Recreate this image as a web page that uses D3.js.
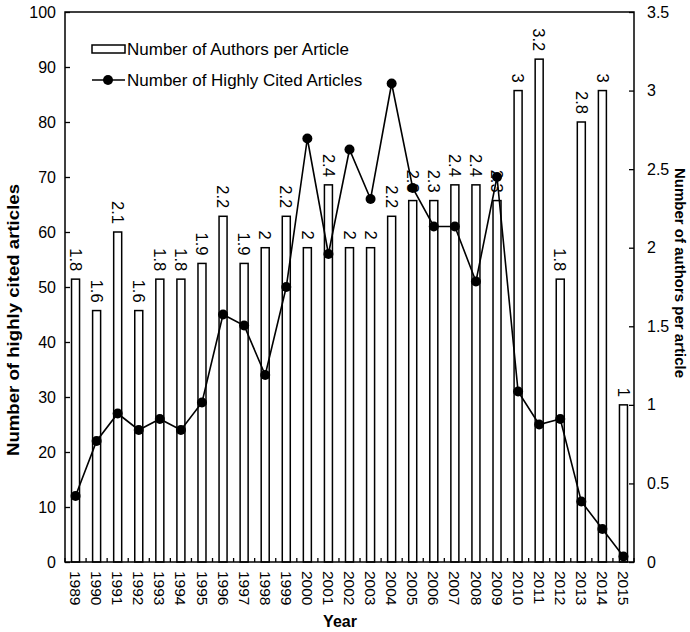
<!DOCTYPE html>
<meta charset="utf-8">
<style>
body { margin: 0; background: #fff; }
text { font-family: "Liberation Sans", Arial, sans-serif; fill: #000; }
.axis path { display: none; }
.axis line { stroke: #000; stroke-width: 1.3; }
.axis text { font-size: 16px; }
.title { font-weight: bold; font-size: 15px; }
</style>
<body>
<svg width="690" height="632"></svg>
<script src="https://cdn.jsdelivr.net/npm/d3@7"></script>
<script>

// data
var years = ["1989","1990","1991","1992","1993","1994","1995","1996","1997","1998","1999","2000","2001","2002",
             "2003","2004","2005","2006","2007","2008","2009","2010","2011","2012","2013","2014","2015"];
var authorsPerArticle = [1.8,1.6,2.1,1.6,1.8,1.8,1.9,2.2,1.9,2,2.2,2,2.4,2,2,2.2,2.3,2.3,2.4,2.4,2.3,3,3.2,1.8,2.8,3,1];
var highlyCited = [12,22,27,24,26,24,29,45,43,34,50,77,56,75,66,87,68,61,61,51,70,31,25,26,11,6,1];
var leftTicks = [0,10,20,30,40,50,60,70,80,90,100];
var rightTicks = [0,0.5,1,1.5,2,2.5,3,3.5];

var svg = d3.select("svg"),
    margin = {top: 12, right: 56, bottom: 70, left: 65},
    width = +svg.attr("width") - margin.left - margin.right,
    height = +svg.attr("height") - margin.top - margin.bottom;

var x = d3.scaleBand().domain(years).range([margin.left, margin.left + width])
    .paddingInner(0.62).paddingOuter(0.31);
var yL = d3.scaleLinear().domain([0, 100]).range([margin.top + height, margin.top]);
var yR = d3.scaleLinear().domain([0, 3.5]).range([margin.top + height, margin.top]);

// bars
svg.selectAll(".bar")
    .data(authorsPerArticle)
  .enter().append("rect")
    .attr("class", "bar")
    .attr("x", function(d, i) { return x(years[i]); })
    .attr("y", function(d) { return yR(d); })
    .attr("width", x.bandwidth())
    .attr("height", function(d) { return yR(0) - yR(d); })
    .style("fill", "#fff")
    .style("stroke", "#000")
    .style("stroke-width", 1.5);

// value labels above bars, turned sideways
svg.selectAll(".barlabel")
    .data(authorsPerArticle)
  .enter().append("text")
    .attr("class", "barlabel")
    .attr("transform", function(d, i) {
      return "translate(" + (x(years[i]) + x.bandwidth() / 2) + "," + (yR(d) - 8) + ") rotate(90)";
    })
    .attr("dy", "0.35em")
    .attr("text-anchor", "end")
    .style("font-size", "16.5px")
    .text(function(d) { return d; });

// plot frame
svg.append("rect")
    .attr("x", margin.left).attr("y", margin.top)
    .attr("width", width).attr("height", height)
    .style("fill", "none").style("stroke", "#000").style("stroke-width", 1.5);

// axes with ticks pointing inwards
svg.append("g")
    .attr("class", "axis")
    .attr("transform", "translate(" + margin.left + ",0)")
    .call(d3.axisLeft(yL).tickValues(leftTicks).tickSize(-5).tickPadding(9));

svg.append("g")
    .attr("class", "axis")
    .attr("transform", "translate(" + (margin.left + width) + ",0)")
    .call(d3.axisRight(yR).tickValues(rightTicks).tickSize(-5).tickPadding(13)
      .tickFormat(function(d) { return d; }));

// x axis: small ticks between categories, year labels turned sideways
var step = x.step();
svg.append("g")
    .selectAll("line")
    .data(d3.range(years.length + 1))
  .enter().append("line")
    .attr("x1", function(i) { return margin.left + i * step; })
    .attr("x2", function(i) { return margin.left + i * step; })
    .attr("y1", margin.top + height)
    .attr("y2", margin.top + height - 4)
    .style("stroke", "#000").style("stroke-width", 1.3);

svg.append("g")
    .selectAll("text")
    .data(years)
  .enter().append("text")
    .attr("transform", function(d) {
      return "translate(" + (x(d) + x.bandwidth() / 2) + "," + (margin.top + height + 9) + ") rotate(90)";
    })
    .attr("dy", "0.35em")
    .style("font-size", "15.5px")
    .text(function(d) { return d; });

// line series
var line = d3.line()
    .x(function(d, i) { return x(years[i]) + x.bandwidth() / 2; })
    .y(function(d) { return yL(d); });

svg.append("path")
    .datum(highlyCited)
    .attr("d", line)
    .style("fill", "none")
    .style("stroke", "#000")
    .style("stroke-width", 1.6);

svg.selectAll(".dot")
    .data(highlyCited)
  .enter().append("circle")
    .attr("class", "dot")
    .attr("cx", function(d, i) { return x(years[i]) + x.bandwidth() / 2; })
    .attr("cy", function(d) { return yL(d); })
    .attr("r", 5)
    .style("fill", "#000");

// axis titles
svg.append("text")
    .attr("class", "title")
    .attr("transform", "translate(19,320) rotate(-90)")
    .attr("text-anchor", "middle")
    .style("font-size", "16px")
    .attr("textLength", 272)
    .attr("lengthAdjust", "spacingAndGlyphs")
    .text("Number of highly cited articles");

svg.append("text")
    .attr("class", "title")
    .attr("transform", "translate(675,273) rotate(90)")
    .attr("text-anchor", "middle")
    .text("Number of authors per article");

svg.append("text")
    .attr("class", "title")
    .attr("x", 340).attr("y", 627)
    .attr("text-anchor", "middle")
    .style("font-size", "16px")
    .text("Year");

// legend
var legend = svg.append("g").style("font-size", "17px");
legend.append("rect")
    .attr("x", 92).attr("y", 45).attr("width", 33).attr("height", 8)
    .style("fill", "#fff").style("stroke", "#000").style("stroke-width", 1.5);
legend.append("text").attr("x", 127).attr("y", 55).text("Number of Authors per Article");
legend.append("line")
    .attr("x1", 92).attr("x2", 125).attr("y1", 80).attr("y2", 80)
    .style("stroke", "#000").style("stroke-width", 1.6);
legend.append("circle").attr("cx", 108).attr("cy", 80).attr("r", 5).style("fill", "#000");
legend.append("text").attr("x", 127).attr("y", 86).text("Number of Highly Cited Articles");

</script>
</body>
